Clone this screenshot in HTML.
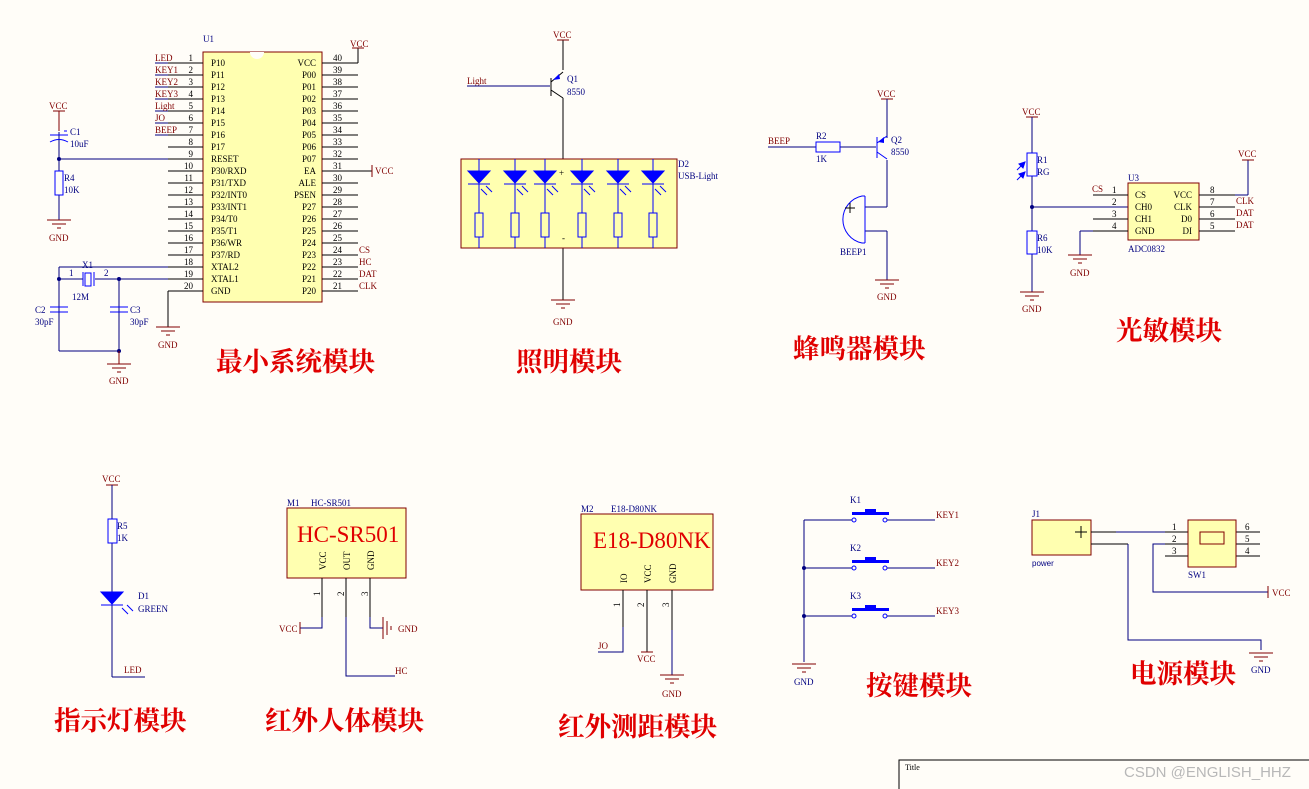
<!DOCTYPE html>
<html><head><meta charset="utf-8"><style>
body{margin:0;background:#fffdf8;}
svg{display:block}
text{font-family:"Liberation Serif",serif;font-size:9px;}
.n{fill:#000080}.r{fill:#800000}.k{fill:#000}
.t{font-family:"Liberation Serif","Noto Serif CJK SC",serif;font-size:26.5px;font-weight:bold;fill:#e00000}
</style></head><body>
<svg width="1309" height="789" viewBox="0 0 1309 789" xmlns="http://www.w3.org/2000/svg">
<defs>
<g id="gnd" stroke="#800000" stroke-width="1"><line x1="-12" y1="0" x2="12" y2="0"/><line x1="-7" y1="4" x2="7" y2="4"/><line x1="-2" y1="8" x2="2" y2="8"/></g>
<g id="vcc" stroke="#800000" stroke-width="1"><line x1="-6" y1="0" x2="6" y2="0"/></g>
<g id="led" fill="#0000ff" stroke="#0000ff"><polygon points="-11,0 11,0 0,12"/><line x1="-11" y1="13" x2="11" y2="13"/><line x1="2" y1="18" x2="8" y2="24"/><line x1="7" y1="15" x2="13" y2="21"/></g>
</defs>

<!-- ===== U1 minimum system ===== -->
<rect x="203" y="52" width="119" height="250" fill="#ffffb0" stroke="#800000"/>
<path d="M250 52 a7 7 0 0 0 14 0" fill="#fffdf8" stroke="none"/>
<text x="203" y="42" class="n">U1</text>
<g stroke="#000" stroke-width="1">
<line x1="168" y1="63" x2="203" y2="63"/><line x1="168" y1="75" x2="203" y2="75"/><line x1="168" y1="87" x2="203" y2="87"/><line x1="168" y1="99" x2="203" y2="99"/><line x1="168" y1="111" x2="203" y2="111"/><line x1="168" y1="123" x2="203" y2="123"/><line x1="168" y1="135" x2="203" y2="135"/><line x1="168" y1="147" x2="203" y2="147"/><line x1="168" y1="159" x2="203" y2="159"/><line x1="168" y1="171" x2="203" y2="171"/><line x1="168" y1="183" x2="203" y2="183"/><line x1="168" y1="195" x2="203" y2="195"/><line x1="168" y1="207" x2="203" y2="207"/><line x1="168" y1="219" x2="203" y2="219"/><line x1="168" y1="231" x2="203" y2="231"/><line x1="168" y1="243" x2="203" y2="243"/><line x1="168" y1="255" x2="203" y2="255"/><line x1="168" y1="267" x2="203" y2="267"/><line x1="168" y1="279" x2="203" y2="279"/><line x1="168" y1="291" x2="203" y2="291"/>
<line x1="322" y1="63" x2="358" y2="63"/><line x1="322" y1="75" x2="358" y2="75"/><line x1="322" y1="87" x2="358" y2="87"/><line x1="322" y1="99" x2="358" y2="99"/><line x1="322" y1="111" x2="358" y2="111"/><line x1="322" y1="123" x2="358" y2="123"/><line x1="322" y1="135" x2="358" y2="135"/><line x1="322" y1="147" x2="358" y2="147"/><line x1="322" y1="159" x2="358" y2="159"/><line x1="322" y1="171" x2="358" y2="171"/><line x1="322" y1="183" x2="358" y2="183"/><line x1="322" y1="195" x2="358" y2="195"/><line x1="322" y1="207" x2="358" y2="207"/><line x1="322" y1="219" x2="358" y2="219"/><line x1="322" y1="231" x2="358" y2="231"/><line x1="322" y1="243" x2="358" y2="243"/><line x1="322" y1="255" x2="358" y2="255"/><line x1="322" y1="267" x2="358" y2="267"/><line x1="322" y1="279" x2="358" y2="279"/><line x1="322" y1="291" x2="358" y2="291"/>
<line x1="358" y1="63" x2="358" y2="48"/><line x1="358" y1="171" x2="372" y2="171"/>
<line x1="168" y1="291" x2="168" y2="327"/>
</g>
<g stroke="#000080"><line x1="155" y1="63" x2="168" y2="63"/><line x1="155" y1="75" x2="168" y2="75"/><line x1="155" y1="87" x2="168" y2="87"/><line x1="155" y1="99" x2="168" y2="99"/><line x1="155" y1="111" x2="168" y2="111"/><line x1="155" y1="123" x2="168" y2="123"/><line x1="155" y1="135" x2="168" y2="135"/></g>
<use href="#vcc" x="358" y="48"/><line x1="372" y1="165" x2="372" y2="177" stroke="#800000"/>
<text x="350" y="47" class="r">VCC</text><text x="375" y="174" class="r">VCC</text>
<g class="r"><text x="155" y="61">LED</text><text x="155" y="73">KEY1</text><text x="155" y="85">KEY2</text><text x="155" y="97">KEY3</text><text x="155" y="109">Light</text><text x="155" y="121">JO</text><text x="155" y="133">BEEP</text>
<text x="359" y="253">CS</text><text x="359" y="265">HC</text><text x="359" y="277">DAT</text><text x="359" y="289">CLK</text></g>
<g class="k" text-anchor="end"><text x="193" y="61">1</text><text x="193" y="73">2</text><text x="193" y="85">3</text><text x="193" y="97">4</text><text x="193" y="109">5</text><text x="193" y="121">6</text><text x="193" y="133">7</text><text x="193" y="145">8</text><text x="193" y="157">9</text><text x="193" y="169">10</text><text x="193" y="181">11</text><text x="193" y="193">12</text><text x="193" y="205">13</text><text x="193" y="217">14</text><text x="193" y="229">15</text><text x="193" y="241">16</text><text x="193" y="253">17</text><text x="193" y="265">18</text><text x="193" y="277">19</text><text x="193" y="289">20</text></g>
<g class="k"><text x="333" y="61">40</text><text x="333" y="73">39</text><text x="333" y="85">38</text><text x="333" y="97">37</text><text x="333" y="109">36</text><text x="333" y="121">35</text><text x="333" y="133">34</text><text x="333" y="145">33</text><text x="333" y="157">32</text><text x="333" y="169">31</text><text x="333" y="181">30</text><text x="333" y="193">29</text><text x="333" y="205">28</text><text x="333" y="217">27</text><text x="333" y="229">26</text><text x="333" y="241">25</text><text x="333" y="253">24</text><text x="333" y="265">23</text><text x="333" y="277">22</text><text x="333" y="289">21</text></g>
<g class="k"><text x="211" y="66">P10</text><text x="211" y="78">P11</text><text x="211" y="90">P12</text><text x="211" y="102">P13</text><text x="211" y="114">P14</text><text x="211" y="126">P15</text><text x="211" y="138">P16</text><text x="211" y="150">P17</text><text x="211" y="162">RESET</text><text x="211" y="174">P30/RXD</text><text x="211" y="186">P31/TXD</text><text x="211" y="198">P32/INT0</text><text x="211" y="210">P33/INT1</text><text x="211" y="222">P34/T0</text><text x="211" y="234">P35/T1</text><text x="211" y="246">P36/WR</text><text x="211" y="258">P37/RD</text><text x="211" y="270">XTAL2</text><text x="211" y="282">XTAL1</text><text x="211" y="294">GND</text></g>
<g class="k" text-anchor="end"><text x="316" y="66">VCC</text><text x="316" y="78">P00</text><text x="316" y="90">P01</text><text x="316" y="102">P02</text><text x="316" y="114">P03</text><text x="316" y="126">P04</text><text x="316" y="138">P05</text><text x="316" y="150">P06</text><text x="316" y="162">P07</text><text x="316" y="174">EA</text><text x="316" y="186">ALE</text><text x="316" y="198">PSEN</text><text x="316" y="210">P27</text><text x="316" y="222">P26</text><text x="316" y="234">P25</text><text x="316" y="246">P24</text><text x="316" y="258">P23</text><text x="316" y="270">P22</text><text x="316" y="282">P21</text><text x="316" y="294">P20</text></g>
<use href="#gnd" x="168" y="327"/><text x="158" y="348" class="r">GND</text>
<!-- reset / crystal -->
<g stroke="#000080"><line x1="59" y1="159" x2="168" y2="159"/><line x1="59" y1="267" x2="168" y2="267"/><line x1="59" y1="267" x2="59" y2="351"/><line x1="119" y1="279" x2="168" y2="279"/><line x1="59" y1="351" x2="119" y2="351"/><line x1="119" y1="279" x2="119" y2="351"/><line x1="59" y1="279" x2="83" y2="279"/><line x1="95" y1="279" x2="119" y2="279"/><line x1="59" y1="132" x2="59" y2="220"/></g>
<line x1="59" y1="111" x2="59" y2="131" stroke="#800000"/><use href="#vcc" x="59" y="111"/><text x="49" y="109" class="r">VCC</text>
<g stroke="#0000ff" fill="none"><line x1="50" y1="135" x2="68" y2="135"/><path d="M50 142 q9 -5 18 0"/><rect x="55" y="171" width="8" height="24" fill="#fffdf8"/><rect x="85" y="273" width="6" height="13"/><line x1="83" y1="272" x2="83" y2="286"/><line x1="94" y1="272" x2="94" y2="286"/><line x1="50" y1="307" x2="68" y2="307"/><line x1="50" y1="312" x2="68" y2="312"/><line x1="110" y1="307" x2="128" y2="307"/><line x1="110" y1="312" x2="128" y2="312"/></g>
<line x1="64" y1="131" x2="67" y2="131" stroke="#0000ff"/>
<g fill="#000080"><circle cx="59" cy="159" r="2"/><circle cx="59" cy="279" r="2"/><circle cx="119" cy="279" r="2"/><circle cx="119" cy="351" r="2"/></g>
<use href="#gnd" x="59" y="220"/><text x="49" y="241" class="r">GND</text>
<line x1="119" y1="351" x2="119" y2="364" stroke="#800000"/><use href="#gnd" x="119" y="364"/><text x="109" y="384" class="r">GND</text>
<g class="n"><text x="70" y="135">C1</text><text x="70" y="147">10uF</text><text x="64" y="181">R4</text><text x="64" y="193">10K</text><text x="82" y="268">X1</text><text x="69" y="276">1</text><text x="104" y="276">2</text><text x="72" y="300">12M</text><text x="35" y="313">C2</text><text x="35" y="325">30pF</text><text x="130" y="313">C3</text><text x="130" y="325">30pF</text></g>
<text x="216" y="371" class="t">最小系统模块</text>

<!-- ===== lighting ===== -->
<line x1="563" y1="40" x2="563" y2="70" stroke="#000"/><use href="#vcc" x="563" y="40"/><text x="553" y="38" class="r">VCC</text>
<text x="467" y="84" class="r">Light</text><line x1="467" y1="86" x2="550" y2="86" stroke="#000080"/>
<g stroke="#000"><line x1="551" y1="78" x2="551" y2="96"/><line x1="551" y1="82" x2="563" y2="72"/><line x1="551" y1="90" x2="563" y2="98"/><line x1="563" y1="98" x2="563" y2="159"/><line x1="563" y1="248" x2="563" y2="300"/></g>
<polygon points="553,80 559,74 560,79" fill="#0000ff"/>
<text x="567" y="82" class="n">Q1</text><text x="567" y="95" class="n">8550</text>
<rect x="461" y="159" width="216" height="89" fill="#ffffb0" stroke="#800000"/>
<text x="678" y="167" class="n">D2</text><text x="678" y="179" class="n">USB-Light</text>
<text x="559" y="176" class="k">+</text><text x="562" y="241" class="k">-</text>
<g stroke="#0000ff" fill="none"><line x1="479" y1="159" x2="479" y2="248"/><line x1="515" y1="159" x2="515" y2="248"/><line x1="545" y1="159" x2="545" y2="248"/><line x1="582" y1="159" x2="582" y2="248"/><line x1="618" y1="159" x2="618" y2="248"/><line x1="653" y1="159" x2="653" y2="248"/>
<rect x="475" y="213" width="8" height="24" fill="#ffffb0"/><rect x="511" y="213" width="8" height="24" fill="#ffffb0"/><rect x="541" y="213" width="8" height="24" fill="#ffffb0"/><rect x="578" y="213" width="8" height="24" fill="#ffffb0"/><rect x="614" y="213" width="8" height="24" fill="#ffffb0"/><rect x="649" y="213" width="8" height="24" fill="#ffffb0"/></g>
<use href="#led" x="479" y="171"/><use href="#led" x="515" y="171"/><use href="#led" x="545" y="171"/><use href="#led" x="582" y="171"/><use href="#led" x="618" y="171"/><use href="#led" x="653" y="171"/>
<use href="#gnd" x="563" y="300"/><text x="553" y="325" class="r">GND</text>
<text x="516" y="371" class="t">照明模块</text>

<!-- ===== buzzer ===== -->
<use href="#vcc" x="887" y="99"/><text x="877" y="97" class="r">VCC</text>
<text x="768" y="144" class="r">BEEP</text>
<g stroke="#000080"><line x1="768" y1="147" x2="816" y2="147"/><line x1="840" y1="147" x2="876" y2="147"/><line x1="887" y1="99" x2="887" y2="138"/><line x1="887" y1="160" x2="887" y2="207"/><line x1="865" y1="207" x2="887" y2="207"/><line x1="865" y1="231" x2="887" y2="231"/><line x1="887" y1="231" x2="887" y2="280"/></g>
<rect x="816" y="142" width="24" height="10" fill="none" stroke="#0000ff"/>
<g stroke="#0000ff" fill="none"><line x1="877" y1="137" x2="877" y2="158"/><line x1="877" y1="143" x2="887" y2="136"/><line x1="877" y1="152" x2="887" y2="159"/><path d="M865 196 L865 243 M865 196 L862 196 A24 24 0 0 0 862 243 L865 243"/></g>
<polygon points="878,142 884,137 884,143" fill="#0000ff"/>
<line x1="845" y1="208" x2="855" y2="208" stroke="#000"/><line x1="850" y1="203" x2="850" y2="213" stroke="#000"/>
<g class="n"><text x="816" y="139">R2</text><text x="816" y="162">1K</text><text x="891" y="143">Q2</text><text x="891" y="155">8550</text><text x="840" y="255">BEEP1</text></g>
<use href="#gnd" x="887" y="280"/><text x="877" y="300" class="r">GND</text>
<text x="793" y="358" class="t">蜂鸣器模块</text>

<!-- ===== photo ===== -->
<use href="#vcc" x="1032" y="117"/><text x="1022" y="115" class="r">VCC</text>
<g stroke="#000080"><line x1="1032" y1="117" x2="1032" y2="153"/><line x1="1032" y1="176" x2="1032" y2="231"/><line x1="1032" y1="254" x2="1032" y2="292"/><line x1="1032" y1="207" x2="1128" y2="207"/><line x1="1080" y1="231" x2="1093" y2="231"/><line x1="1080" y1="231" x2="1080" y2="255"/><line x1="1235" y1="195" x2="1248" y2="195"/><line x1="1248" y1="195" x2="1248" y2="160"/></g>
<circle cx="1032" cy="207" r="2" fill="#000080"/>
<rect x="1027" y="153" width="10" height="23" fill="none" stroke="#0000ff"/><rect x="1027" y="231" width="10" height="23" fill="none" stroke="#0000ff"/>
<g stroke="#0000ff" fill="#0000ff"><line x1="1017" y1="170" x2="1025" y2="162"/><line x1="1017" y1="180" x2="1025" y2="172"/><polygon points="1025,162 1019,164 1023,168"/><polygon points="1025,172 1019,174 1023,178"/></g>
<rect x="1128" y="183" width="71" height="57" fill="#ffffb0" stroke="#800000"/>
<g stroke="#000"><line x1="1093" y1="195" x2="1128" y2="195"/><line x1="1093" y1="219" x2="1128" y2="219"/><line x1="1093" y1="231" x2="1128" y2="231"/><line x1="1199" y1="195" x2="1235" y2="195"/><line x1="1199" y1="207" x2="1235" y2="207"/><line x1="1199" y1="219" x2="1235" y2="219"/><line x1="1199" y1="231" x2="1235" y2="231"/></g>
<use href="#vcc" x="1248" y="160"/><text x="1238" y="157" class="r">VCC</text>
<g class="k"><text x="1112" y="193">1</text><text x="1112" y="205">2</text><text x="1112" y="217">3</text><text x="1112" y="229">4</text><text x="1210" y="193">8</text><text x="1210" y="205">7</text><text x="1210" y="217">6</text><text x="1210" y="229">5</text>
<text x="1135" y="198">CS</text><text x="1135" y="210">CH0</text><text x="1135" y="222">CH1</text><text x="1135" y="234">GND</text><text x="1192" y="198" text-anchor="end">VCC</text><text x="1192" y="210" text-anchor="end">CLK</text><text x="1192" y="222" text-anchor="end">D0</text><text x="1192" y="234" text-anchor="end">DI</text></g>
<g class="r"><text x="1092" y="192">CS</text><text x="1236" y="204">CLK</text><text x="1236" y="216">DAT</text><text x="1236" y="228">DAT</text></g>
<g class="n"><text x="1128" y="181">U3</text><text x="1128" y="252">ADC0832</text><text x="1037" y="163">R1</text><text x="1037" y="175">RG</text><text x="1037" y="241">R6</text><text x="1037" y="253">10K</text></g>
<use href="#gnd" x="1080" y="255"/><text x="1070" y="276" class="r">GND</text>
<use href="#gnd" x="1032" y="292"/><text x="1022" y="312" class="r">GND</text>
<text x="1116" y="340" class="t">光敏模块</text>

<!-- ===== indicator ===== -->
<use href="#vcc" x="112" y="485"/><text x="102" y="482" class="r">VCC</text>
<g stroke="#000080"><line x1="112" y1="485" x2="112" y2="519"/><line x1="112" y1="543" x2="112" y2="677"/><line x1="112" y1="677" x2="145" y2="677"/></g>
<rect x="108" y="519" width="9" height="24" fill="#fffdf8" stroke="#0000ff"/>
<g fill="#0000ff" stroke="#0000ff"><polygon points="101,592 123,592 112,604"/><line x1="101" y1="605" x2="123" y2="605"/><line x1="122" y1="608" x2="128" y2="614"/><line x1="127" y1="605" x2="133" y2="611"/></g>
<g class="n"><text x="117" y="529">R5</text><text x="117" y="541">1K</text><text x="138" y="599">D1</text><text x="138" y="612">GREEN</text></g>
<text x="124" y="673" class="r">LED</text>
<text x="54" y="730" class="t">指示灯模块</text>

<!-- ===== HC-SR501 ===== -->
<text x="287" y="506" class="n">M1</text><text x="311" y="506" class="n">HC-SR501</text>
<rect x="287" y="508" width="119" height="70" fill="#ffffb0" stroke="#800000"/>
<text x="297" y="542" style="font-family:'Liberation Serif',serif;font-size:23px;fill:#e00000">HC-SR501</text>
<g class="k" style="font-size:10px"><text transform="translate(326,570) rotate(-90)">VCC</text><text transform="translate(350,570) rotate(-90)">OUT</text><text transform="translate(374,570) rotate(-90)">GND</text>
<text transform="translate(320,596) rotate(-90)">1</text><text transform="translate(344,596) rotate(-90)">2</text><text transform="translate(368,596) rotate(-90)">3</text></g>
<g stroke="#000"><line x1="322" y1="578" x2="322" y2="617"/><line x1="346" y1="578" x2="346" y2="617"/><line x1="370" y1="578" x2="370" y2="617"/></g>
<g stroke="#000080" fill="none"><path d="M322 617 V628 H300"/><path d="M346 617 V676 H395"/><path d="M370 617 V628 H383"/></g>
<g stroke="#800000"><line x1="300" y1="622" x2="300" y2="634"/><line x1="383" y1="617" x2="383" y2="639"/><line x1="387" y1="621" x2="387" y2="635"/><line x1="391" y1="626" x2="391" y2="630"/></g>
<g class="r"><text x="279" y="632">VCC</text><text x="398" y="632">GND</text><text x="395" y="674">HC</text></g>
<text x="265" y="730" class="t">红外人体模块</text>

<!-- ===== E18 ===== -->
<text x="581" y="512" class="n">M2</text><text x="611" y="512" class="n">E18-D80NK</text>
<rect x="581" y="514" width="132" height="76" fill="#ffffb0" stroke="#800000"/>
<text x="593" y="548" style="font-family:'Liberation Serif',serif;font-size:23px;fill:#e00000">E18-D80NK</text>
<g class="k" style="font-size:10px"><text transform="translate(627,583) rotate(-90)">IO</text><text transform="translate(651,583) rotate(-90)">VCC</text><text transform="translate(676,583) rotate(-90)">GND</text>
<text transform="translate(620,607) rotate(-90)">1</text><text transform="translate(644,607) rotate(-90)">2</text><text transform="translate(669,607) rotate(-90)">3</text></g>
<g stroke="#000"><line x1="623" y1="590" x2="623" y2="627"/><line x1="647" y1="590" x2="647" y2="652"/><line x1="672" y1="590" x2="672" y2="630"/></g>
<g stroke="#000080" fill="none"><path d="M623 627 V652 H598"/><line x1="672" y1="630" x2="672" y2="675"/></g>
<use href="#vcc" x="647" y="652"/><use href="#gnd" x="672" y="675"/>
<g class="r"><text x="598" y="649">JO</text><text x="637" y="662">VCC</text><text x="662" y="697">GND</text></g>
<text x="558" y="736" class="t">红外测距模块</text>

<!-- ===== keys ===== -->
<g stroke="#000080"><line x1="804" y1="520" x2="804" y2="662"/><line x1="804" y1="520" x2="852" y2="520"/><line x1="804" y1="568" x2="852" y2="568"/><line x1="804" y1="616" x2="852" y2="616"/><line x1="886" y1="520" x2="935" y2="520"/><line x1="886" y1="568" x2="935" y2="568"/><line x1="886" y1="616" x2="935" y2="616"/></g>
<g fill="#000080"><circle cx="804" cy="568" r="2"/><circle cx="804" cy="616" r="2"/></g>
<g stroke="#0000ff" fill="#fffdf8"><circle cx="854" cy="520" r="2"/><circle cx="885" cy="520" r="2"/><circle cx="854" cy="568" r="2"/><circle cx="885" cy="568" r="2"/><circle cx="854" cy="616" r="2"/><circle cx="885" cy="616" r="2"/></g>
<g fill="#0000ff"><rect x="852" y="512" width="37" height="3"/><rect x="865" y="509" width="11" height="4"/><rect x="852" y="560" width="37" height="3"/><rect x="865" y="557" width="11" height="4"/><rect x="852" y="608" width="37" height="3"/><rect x="865" y="605" width="11" height="4"/></g>
<g class="n"><text x="850" y="503">K1</text><text x="850" y="551">K2</text><text x="850" y="599">K3</text></g>
<g class="r"><text x="936" y="518">KEY1</text><text x="936" y="566">KEY2</text><text x="936" y="614">KEY3</text></g>
<use href="#gnd" x="804" y="664"/><text x="794" y="685" class="n">GND</text>
<text x="866" y="695" class="t">按键模块</text>

<!-- ===== power ===== -->
<text x="1032" y="517" class="n">J1</text>
<rect x="1032" y="520" width="59" height="35" fill="#ffffb0" stroke="#800000"/>
<g stroke="#000"><line x1="1075" y1="532" x2="1087" y2="532"/><line x1="1081" y1="526" x2="1081" y2="538"/><line x1="1091" y1="532" x2="1116" y2="532"/><line x1="1091" y1="544" x2="1128" y2="544"/><line x1="1165" y1="532" x2="1188" y2="532"/><line x1="1165" y1="544" x2="1188" y2="544"/><line x1="1165" y1="556" x2="1188" y2="556"/><line x1="1236" y1="532" x2="1260" y2="532"/><line x1="1236" y1="544" x2="1260" y2="544"/><line x1="1236" y1="556" x2="1260" y2="556"/></g>
<g stroke="#000080" fill="none"><line x1="1116" y1="532" x2="1165" y2="532"/><path d="M1165 544 H1153 V592 H1268"/><path d="M1128 544 V640 H1261 V650"/></g>
<line x1="1268" y1="586" x2="1268" y2="598" stroke="#800000"/>
<use href="#gnd" x="1261" y="653"/>
<rect x="1188" y="520" width="48" height="47" fill="#ffffb0" stroke="#800000"/>
<rect x="1200" y="532" width="24" height="12" fill="none" stroke="#800000"/>
<text x="1032" y="566" class="n" style="font-family:'Liberation Sans',sans-serif;font-size:8px">power</text>
<g class="k"><text x="1172" y="530">1</text><text x="1172" y="542">2</text><text x="1172" y="554">3</text><text x="1245" y="530">6</text><text x="1245" y="542">5</text><text x="1245" y="554">4</text></g>
<text x="1188" y="578" class="n">SW1</text>
<text x="1272" y="596" class="r">VCC</text><text x="1251" y="673" class="n">GND</text>
<text x="1130" y="683" class="t">电源模块</text>

<!-- title block -->
<path d="M899 789 V760 H1309" fill="none" stroke="#000"/>
<text x="905" y="770" style="font-size:8px">Title</text>
<text x="1124" y="777" style="font-family:'Liberation Sans',sans-serif;font-size:15px;fill:#b8b8b8">CSDN @ENGLISH_HHZ</text>
</svg>
</body></html>
